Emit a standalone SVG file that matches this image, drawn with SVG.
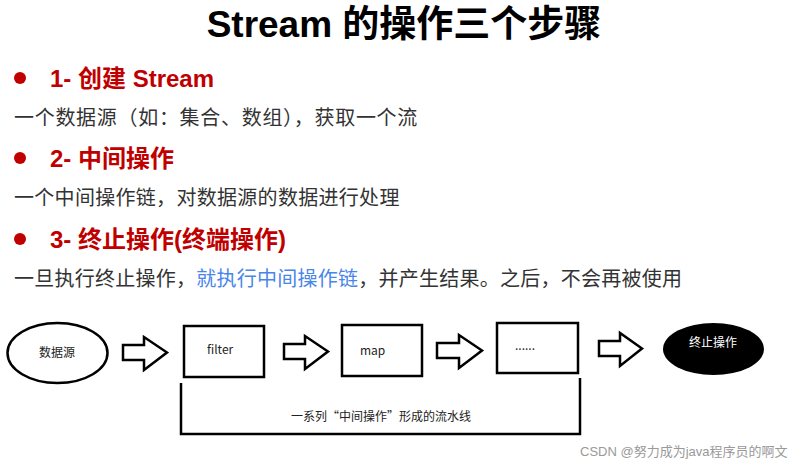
<svg xmlns="http://www.w3.org/2000/svg" width="796" height="467" viewBox="0 0 796 467">
<style>
.title{font-family:"Liberation Sans","Noto Sans CJK SC",sans-serif;font-weight:bold;font-size:37px;fill:#000}
.head{font-family:"Liberation Sans","Noto Sans CJK SC",sans-serif;font-weight:bold;font-size:24px;fill:#c00000}
.body{font-family:"Noto Sans CJK SC",sans-serif;font-size:20px;fill:#333}
.blue{fill:#4a86e8}
.lbl{font-family:"Noto Sans CJK SC","Liberation Sans",sans-serif;font-size:12px;fill:#222}
.shape{fill:#fff;stroke:#000;stroke-width:2.5}
.arrow{fill:#fff;stroke:#000;stroke-width:2.5;stroke-linejoin:miter}
.wm{font-family:"Liberation Sans","Noto Sans CJK SC",sans-serif;font-size:13px;fill:#999}
</style>
<rect width="796" height="467" fill="#fff"/>
<text class="title" x="404" y="37" text-anchor="middle">Stream 的操作三个步骤</text>

<g id="step1">
<circle cx="20" cy="78" r="6" fill="#c00000"/>
<text class="head" x="50" y="87">1- 创建 Stream</text>
<text class="body" x="14" y="125" letter-spacing="0.7">一个数据源（如：集合、数组），获取一个流</text>
</g>
<g id="step2">
<circle cx="20" cy="158" r="6" fill="#c00000"/>
<text class="head" x="50" y="167">2- 中间操作</text>
<text class="body" x="14" y="205" letter-spacing="0.3">一个中间操作链，对数据源的数据进行处理</text>
</g>
<g id="step3">
<circle cx="20" cy="239" r="6" fill="#c00000"/>
<text class="head" x="50" y="248">3- 终止操作(终端操作)</text>
<text class="body" x="14" y="286" letter-spacing="0.25">一旦执行终止操作，<tspan class="blue">就执行中间操作链</tspan>，并产生结果。之后，不会再被使用</text>
</g>

<g id="source">
<ellipse class="shape" cx="57.5" cy="353" rx="50" ry="30"/>
<text class="lbl" x="57" y="357" text-anchor="middle">数据源</text>
</g>
<g id="filter">
<rect class="shape" x="184" y="326" width="80" height="51"/>
<text class="lbl" x="207" y="354">filter</text>
</g>
<g id="map">
<rect class="shape" x="342" y="325" width="80" height="51"/>
<text class="lbl" x="360" y="355">map</text>
</g>
<g id="more">
<rect class="shape" x="497" y="323" width="81" height="50"/>
<text class="lbl" x="515" y="350">......</text>
</g>
<g id="terminal">
<ellipse cx="713.5" cy="349" rx="50.5" ry="26" fill="#000"/>
<text class="lbl" x="713" y="347" text-anchor="middle" style="fill:#fff">终止操作</text>
</g>

<g id="connectors">
<path class="arrow" d="M123,345 H144 V337 L167,352.5 L144,370 V360 H123 Z"/>
<path class="arrow" d="M284,344 H305 V336 L328,351.5 L305,369 V359 H284 Z"/>
<path class="arrow" d="M437,343 H459 V335 L482,350.5 L459,368 V358 H437 Z"/>
<path class="arrow" d="M599,341 H620 V333 L642,348.5 L620,366 V356 H599 Z"/>
<path d="M181,383 V434 H580 V378" fill="none" stroke="#000" stroke-width="2.5"/>
<text class="lbl" x="381" y="421" text-anchor="middle">一系列“中间操作”形成的流水线</text>
</g>

<text class="wm" x="580" y="456">CSDN @努力成为java程序员的啊文</text>
</svg>
